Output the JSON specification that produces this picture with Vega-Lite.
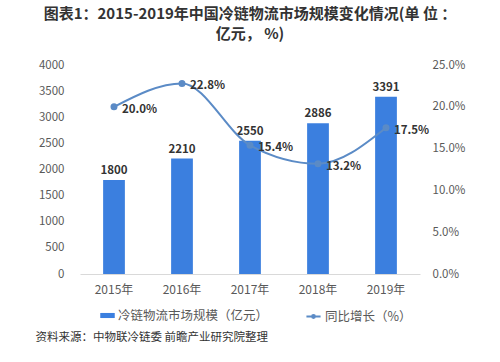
{
  "$schema": "https://vega.github.io/schema/vega-lite/v6.json",
  "width": 340,
  "height": 209,
  "autosize": {"type": "none"},
  "padding": {"left": 80, "top": 65, "right": 80, "bottom": 88},
  "background": "white",
  "config": {"font": "Noto Sans CJK SC", "view": {"stroke": null}},
  "title": {
    "text": ["图表1：2015-2019年中国冷链物流市场规模变化情况(单 位 ：", "亿元， %)"],
    "fontSize": 15,
    "fontWeight": "bold",
    "color": "#333333",
    "anchor": "middle",
    "offset": 17,
    "lineHeight": 20
  },
  "data": {
    "values": [
      {"year": "2015年", "value": 1800, "growth": 0.200, "glabel": "20.0%"},
      {"year": "2016年", "value": 2210, "growth": 0.228, "glabel": "22.8%"},
      {"year": "2017年", "value": 2550, "growth": 0.154, "glabel": "15.4%"},
      {"year": "2018年", "value": 2886, "growth": 0.132, "glabel": "13.2%"},
      {"year": "2019年", "value": 3391, "growth": 0.175, "glabel": "17.5%"}
    ]
  },
  "encoding": {
    "x": {
      "field": "year",
      "type": "ordinal",
      "sort": null,
      "scale": {"paddingInner": 0.68, "paddingOuter": 0.34},
      "axis": {
        "labelAngle": 0,
        "labelFontSize": 12,
        "labelColor": "#595959",
        "labelPadding": 10,
        "ticks": false,
        "domainColor": "#d9d9d9",
        "grid": false,
        "title": "资料来源：中物联冷链委 前瞻产业研究院整理",
        "titleAnchor": "start",
        "titleAlign": "left",
        "titleBaseline": "middle",
        "titleX": -45,
        "titleY": 63,
        "titleFontSize": 11.5,
        "titleFontWeight": "normal",
        "titleColor": "#333333"
      }
    }
  },
  "layer": [
    {
      "encoding": {
        "y": {
          "field": "value",
          "type": "quantitative",
          "scale": {"domain": [0, 4000]},
          "axis": {
            "values": [0, 500, 1000, 1500, 2000, 2500, 3000, 3500, 4000],
            "format": "d",
            "labelOverlap": false,
            "labelFontSize": 11.5,
            "labelColor": "#595959",
            "labelPadding": 16,
            "ticks": false,
            "domain": false,
            "grid": false,
            "title": null
          }
        }
      },
      "layer": [
        {
          "mark": {"type": "bar", "color": "#3b7fdf"},
          "encoding": {
            "fill": {
              "datum": "冷链物流市场规模（亿元）",
              "type": "nominal",
              "scale": {"range": ["#3b7fdf"]},
              "legend": {
                "orient": "none",
                "legendX": 20,
                "legendY": 243,
                "title": null,
                "symbolType": "M-1,-0.35L1,-0.35L1,0.35L-1,0.35Z",
                "symbolSize": 210,
                "symbolStrokeWidth": 0,
                "labelFontSize": 12.5,
                "labelColor": "#595959",
                "labelOffset": 3
              }
            }
          }
        },
        {
          "mark": {"type": "text", "dy": -9, "fontSize": 11.5, "fontWeight": "bold", "color": "#333333"},
          "encoding": {
            "text": {"field": "value", "type": "quantitative", "format": "d"}
          }
        }
      ]
    },
    {
      "encoding": {
        "y": {
          "field": "growth",
          "type": "quantitative",
          "scale": {"domain": [0, 0.25]},
          "axis": {
            "orient": "right",
            "values": [0, 0.05, 0.1, 0.15, 0.2, 0.25],
            "format": ".1%",
            "labelOverlap": false,
            "labelFontSize": 11.5,
            "labelColor": "#595959",
            "labelPadding": 12,
            "ticks": false,
            "domain": false,
            "grid": false,
            "title": null
          }
        }
      },
      "layer": [
        {
          "mark": {
            "type": "line",
            "interpolate": "monotone",
            "strokeWidth": 2,
            "color": "#5b8bc6",
            "point": {"filled": true, "size": 25, "color": "#5b8bc6"}
          },
          "encoding": {
            "stroke": {
              "datum": "同比增长（%）",
              "type": "nominal",
              "scale": {"range": ["#5b8bc6"]},
              "legend": {
                "orient": "none",
                "legendX": 225,
                "legendY": 243,
                "title": null,
                "symbolType": "M-1,0L1,0M-0.2,0A0.2,0.2 0 1,0 0.2,0A0.2,0.2 0 1,0 -0.2,0",
                "symbolSize": 200,
                "symbolStrokeWidth": 2,
                "symbolFillColor": "#5b8bc6",
                "labelFontSize": 12.5,
                "labelColor": "#595959",
                "labelOffset": 3
              }
            }
          }
        },
        {
          "mark": {"type": "text", "align": "left", "dx": 8, "dy": 3, "fontSize": 11.5, "fontWeight": "bold", "color": "#333333"},
          "encoding": {
            "text": {"field": "glabel", "type": "nominal"}
          }
        }
      ]
    }
  ],
  "resolve": {"scale": {"y": "independent", "fill": "independent", "stroke": "independent"}}
}
